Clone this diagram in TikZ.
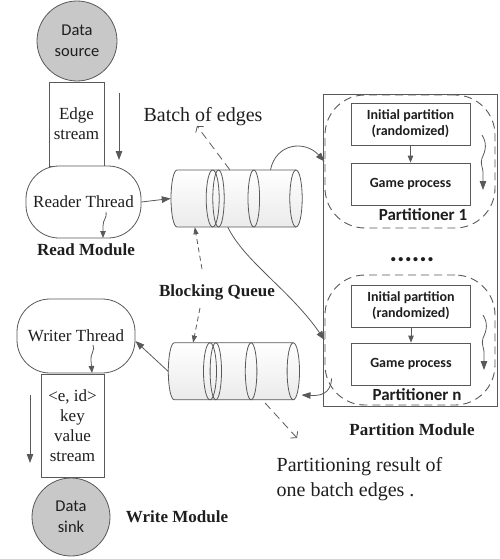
\documentclass[tikz,border=0pt]{standalone}
\usepackage{fontspec}
\setmainfont{Liberation Serif}
\setsansfont{Carlito}
\usetikzlibrary{arrows.meta}
\definecolor{lc}{HTML}{595959}
\definecolor{tc}{HTML}{1E1E1E}
\definecolor{disk}{HTML}{C8C8C8}

% horizontal queue drawn as a cylinder; #1 name, (#2,#3) centre of the left cap
\newcommand\drawqueue[3]{%
  \begin{scope}[shift={(#2,#3)}]
    \shade[top color=white,bottom color=black!8]
      (0,-28.5) arc[start angle=-90,end angle=-270,x radius=6,y radius=28.5]
      -- (119,28.5) arc[start angle=90,end angle=-90,x radius=6,y radius=28.5] -- cycle;
    \draw[ln] (0,-28.5) arc[start angle=-90,end angle=-270,x radius=6,y radius=28.5]
      -- (119,28.5) (0,-28.5) -- (119,-28.5);
    \draw[ln] (119,0) ellipse[x radius=6.2,y radius=28.5];
    \draw[ln] (35.7,0) ellipse[x radius=6.5,y radius=28.5];
    \draw[ln] (41.5,0) ellipse[x radius=5.7,y radius=28.5];
    \draw[ln] (76.8,0) ellipse[x radius=5.8,y radius=28.5];
    \node[inner sep=0pt,minimum width=131pt,minimum height=57pt] (#1) at (59.5,0) {};
  \end{scope}}

\begin{document}
\begin{tikzpicture}[x=1pt,y=-1pt,
  ln/.style={draw=lc,line width=0.8pt},
  arr/.style={ln,-{Triangle[length=9pt,width=6.5pt]}},
  sarr/.style={ln,-{Triangle[length=7pt,width=5.5pt]}},
  darr/.style={ln,dash pattern=on 5pt off 3.5pt,-{Triangle[length=7pt,width=5pt]}},
  varr/.style={ln,dash pattern=on 8pt off 5pt,-{Straight Barb[length=4pt,width=10pt]}},
  disknode/.style={circle,ln,fill=disk,inner sep=0pt,text=tc,align=center,
    font=\sffamily\fontsize{16.5}{21}\selectfont},
  boxn/.style={rectangle,ln,fill=white,inner sep=0pt,text=tc,align=center,
    font=\fontsize{17}{20}\selectfont},
  thread/.style={rectangle,rounded corners=33pt,ln,fill=white,inner sep=0pt,text=tc,
    font=\fontsize{17}{20}\selectfont},
  pbox/.style={rectangle,ln,fill=white,inner sep=0pt,text=tc,align=center,
    minimum width=119pt,minimum height=42pt,
    font=\sffamily\bfseries\fontsize{14}{16}\selectfont},
  region/.style={rectangle,rounded corners=40pt,draw=lc,line width=0.9pt,
    dash pattern=on 8pt off 5pt,inner sep=0pt,minimum width=170pt},
  plabel/.style={text=tc,inner sep=0pt,font=\sffamily\bfseries\fontsize{17}{20}\selectfont},
  mlabel/.style={text=tc,inner sep=0pt,font=\bfseries\fontsize{17}{20}\selectfont},
  note/.style={text=tc,inner sep=0pt,align=left,font=\fontsize{20}{25}\selectfont}]

\useasboundingbox (0,0) rectangle (500,559);

% ---------- read side ----------
\node[disknode,minimum size=80pt] (src) at (77,41) {Data\\source};
\node[boxn,minimum width=55pt,minimum height=84pt] (es) at (76.5,124) {Edge\\stream};
\node[thread,minimum width=115pt,minimum height=72pt] (rd) at (83.5,202) {Reader Thread};
\node[mlabel] (rm) at (86,250) {Read Module};
\coordinate (esa) at (119,93);
\coordinate (esb) at (119,160);
\draw[arr] (esa) -- (esb);
\coordinate (rsa) at (106,212);
\coordinate (rsb) at (103,238);
\draw[sarr] (rsa) .. controls (107,219) and (103,219) .. (103,226) -- (rsb);

% ---------- queues ----------
\drawqueue{q1}{177}{198.5}
\drawqueue{q2}{174.3}{371.3}
\draw[arr] (rd.east) -- (q1.west);

\node[text=tc,inner sep=0pt,font=\fontsize{20}{24}\selectfont] (batch) at (203,117) {Batch of edges};
\coordinate (bt) at (197,126);
\draw[varr] ([xshift=59pt]q1.north west) -- (bt);

\node[mlabel] (bq) at (217,292) {Blocking Queue};
\coordinate (bqa) at (202,269);
\coordinate (bqb) at (200,308);
\draw[darr] (bqa) -- ([xshift=24pt]q1.south west);
\draw[darr] (bqb) -- ([xshift=25pt]q2.north west);

% ---------- partition module ----------
\node[rectangle,ln,inner sep=0pt,minimum width=174pt,minimum height=312pt] (pm) at (410,250) {};

\node[region,minimum height=133pt] (p1) at (410,161.5) {};
\node[pbox] (i1) at (410.5,124) {Initial partition\\(randomized)};
\node[pbox] (g1) at (410.5,184) {Game process};
\node[plabel] (l1) at (423,215) {Partitioner 1};
\draw[sarr] (i1.south) -- (g1.north);
\coordinate (s1a) at (482,135);
\coordinate (s1b) at (483,190);
\draw[arr] (s1a) .. controls (487,143) and (486,150) .. (482,158)
  .. controls (480,164) and (483,168) .. (483,172) -- (s1b);

\node[text=tc,inner sep=0pt,font=\sffamily\bfseries\fontsize{28}{28}\selectfont] (dots) at (412,260) {......};

\node[region,minimum height=130pt] (pn) at (410,340) {};
\node[pbox] (in) at (411,306) {Initial partition\\(randomized)};
\node[pbox] (gn) at (411,364) {Game process};
\node[plabel] (ln) at (417,395) {Partitioner n};
\draw[sarr] (in.south) -- (gn.north);
\coordinate (sna) at (483,315);
\coordinate (snb) at (484,370);
\draw[arr] (sna) .. controls (488,323) and (487,330) .. (483,338)
  .. controls (481,344) and (484,348) .. (484,352) -- (snb);

\node[mlabel] (pml) at (412,430) {Partition Module};

% ---------- queue / partitioner connectors ----------
\draw[arr] ([xshift=99.7pt]q1.north west) .. controls (276,143) and (305,140) .. (p1.west);
\draw[arr] ([xshift=57pt]q1.south west) .. controls (245,262) and (290,290) .. (pn.west);
\draw[arr] ([xshift=7pt,yshift=27pt]pn.south west) .. controls (331,394) and (320,396) .. ([xshift=2pt,yshift=5pt]q2.south east);

% ---------- write side ----------
\node[thread,minimum width=118pt,minimum height=74pt] (wr) at (76,336) {Writer Thread};
\draw[arr] (q2.west) -- ([yshift=-5pt]wr.east);
\node[boxn,minimum width=63pt,minimum height=103pt] (ks) at (72.5,425.5) {<e, id>\\key\\value\\stream};
\coordinate (wsa) at (93,345);
\coordinate (wsb) at (92,373);
\draw[sarr] (wsa) .. controls (95,352) and (90,354) .. (91,360) -- (wsb);
\coordinate (ksa) at (30,395);
\coordinate (ksb) at (30,463);
\draw[arr] (ksa) -- (ksb);
\node[disknode,minimum size=78pt] (sink) at (71,517) {Data\\sink};
\node[mlabel] (wm) at (177,517) {Write Module};

% ---------- result of one batch ----------
\coordinate (rt) at (297,438);
\draw[varr] ([xshift=97pt,yshift=-3pt]q2.south west) -- (rt);
\node[note] (res) at (359.5,479.5) {Partitioning result of\\one batch edges .};

\end{tikzpicture}
\end{document}
